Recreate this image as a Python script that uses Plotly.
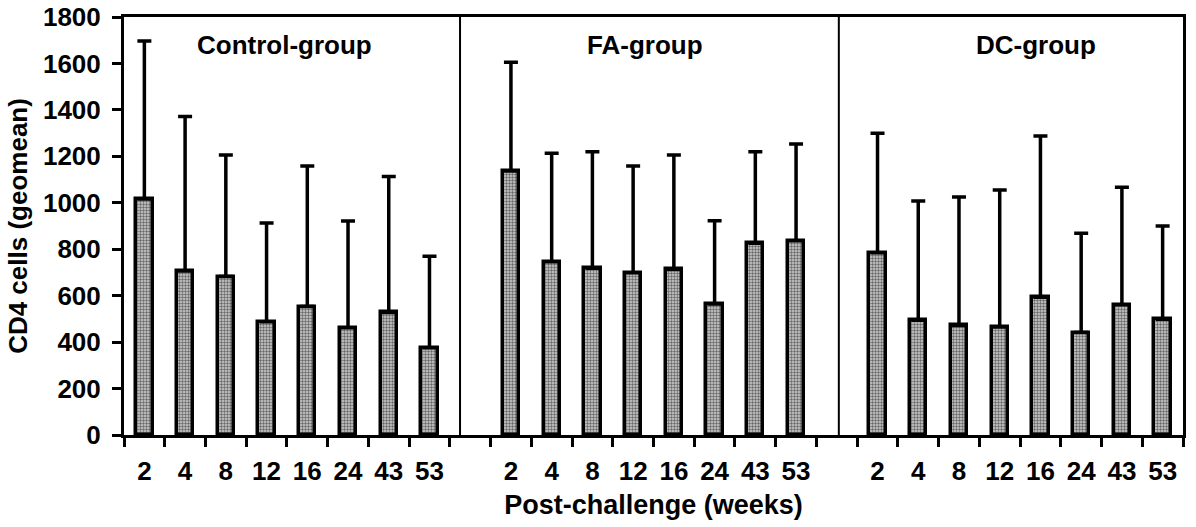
import plotly.graph_objects as go

weeks = ["2", "4", "8", "12", "16", "24", "43", "53"]
groups = ["Control-group", "FA-group", "DC-group"]

control_mean = [1016, 706, 682, 488, 553, 462, 528, 376]
control_upper = [1697, 1371, 1206, 913, 1158, 922, 1113, 770]
fa_mean = [1137, 746, 718, 699, 713, 564, 826, 837]
fa_upper = [1605, 1213, 1220, 1158, 1206, 923, 1220, 1253]
dc_mean = [785, 494, 472, 465, 593, 441, 561, 498]
dc_upper = [1299, 1008, 1025, 1055, 1288, 869, 1067, 900]

means = [control_mean, fa_mean, dc_mean]
uppers = [control_upper, fa_upper, dc_upper]

FONT = "Liberation Sans, Arial, sans-serif"
n = len(weeks)
slot = n + 1  # one empty slot between groups

xs, ys, errs, labels = [], [], [], []
for g in range(len(groups)):
    for i in range(n):
        x = g * slot + i
        xs.append(x)
        ys.append(means[g][i])
        errs.append(uppers[g][i] - means[g][i])
        labels.append(weeks[i])

last = xs[-1]

fig = go.Figure()
fig.add_trace(go.Bar(
    x=xs, y=ys, width=0.4,
    marker=dict(
        color="white",
        line=dict(color="black", width=3.5),
        pattern=dict(shape=".", fgcolor="black", bgcolor="#d0d0d0", size=3, solidity=0.5),
    ),
    error_y=dict(type="data", symmetric=False, array=errs, arrayminus=[0] * len(errs),
                 color="black", thickness=3.5, width=7),
    showlegend=False,
))
# invisible trace to hold the label axis
fig.add_trace(go.Scatter(x=xs, y=ys, xaxis="x2", mode="markers",
                         marker=dict(opacity=0), showlegend=False, hoverinfo="skip"))

boundaries = [b - 0.5 for b in range(last + 2)]

fig.update_layout(
    width=1196, height=527,
    margin=dict(l=124, r=13, t=17, b=92, autoexpand=False),
    plot_bgcolor="white", paper_bgcolor="white",
    font=dict(family=FONT, color="black", size=26, weight="bold"),
    xaxis=dict(range=[-0.5, last + 0.5], tickmode="array", tickvals=boundaries,
               showticklabels=False, ticks="outside", ticklen=9, tickwidth=3, tickcolor="black",
               showline=True, linewidth=3, linecolor="black", mirror=True,
               showgrid=False, zeroline=False, automargin=False,
               title=dict(text="Post-challenge (weeks)", font=dict(size=27, family=FONT, weight="bold"),
                          standoff=50)),
    xaxis2=dict(range=[-0.5, last + 0.5], overlaying="x", anchor="y", side="bottom",
                tickmode="array", tickvals=xs, ticktext=labels, ticks="",
                ticklabelstandoff=18, automargin=False,
                tickfont=dict(size=26, family=FONT, weight="bold"),
                showline=False, showgrid=False, zeroline=False),
    yaxis=dict(range=[0, 1800], tickmode="linear", tick0=0, dtick=200,
               ticks="outside", ticklen=9, tickwidth=3, tickcolor="black",
               showline=True, linewidth=3, linecolor="black", mirror=True,
               showgrid=False, zeroline=False, ticklabelstandoff=6, automargin=False,
               tickfont=dict(size=26, family=FONT, weight="bold"),
               title=dict(text="CD4 cells (geomean)", font=dict(size=26, family=FONT, weight="bold"),
                          standoff=8)),
    bargap=0,
)

for sx in [7.75, 17.05]:
    fig.add_shape(type="line", xref="x", yref="y", x0=sx, x1=sx, y0=0, y1=1800,
                  line=dict(color="black", width=2))

label_x = [3.45, 12.3, 21.9]
for gx, name in zip(label_x, groups):
    fig.add_annotation(x=gx, y=1680, xref="x", yref="y", text=name, showarrow=False,
                       font=dict(size=26, family=FONT, weight="bold", color="black"))

fig.write_html("out.html")
